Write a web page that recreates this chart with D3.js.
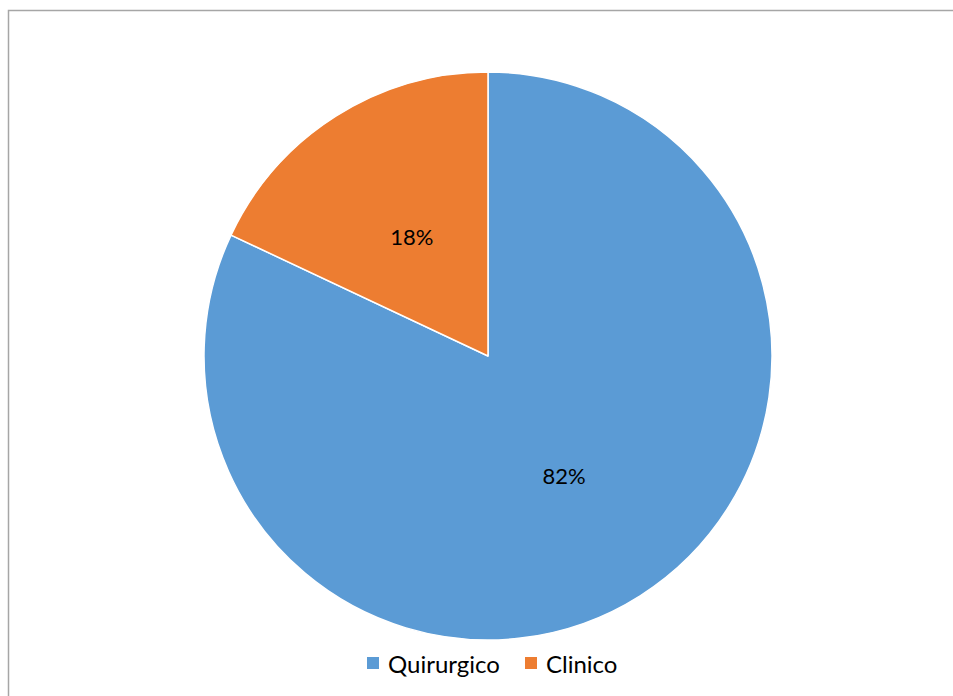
<!DOCTYPE html>
<html>
<head>
<meta charset="utf-8">
<script src="https://cdn.jsdelivr.net/npm/d3@7"></script>
<style>
  html, body { margin: 0; padding: 0; background: #fff; }
  svg { display: block; }
</style>
</head>
<body>
<svg id="chart" width="953" height="696"></svg>
<script>
// Share of cases by type
const categories = ["Quirurgico", "Clinico"];
const values = [82, 18];
const colors = ["#5B9BD5", "#ED7D31"];

const width = 953, height = 696;
const cx = 488, cy = 356, radius = 284;
const fontFamily = "Lato, 'Open Sans', 'Liberation Sans', sans-serif";

const svg = d3.select("#chart");

// chart frame (right and bottom edges fall outside the view)
svg.append("rect")
  .attr("x", 8.5).attr("y", 10.5)
  .attr("width", 1000).attr("height", 1000)
  .attr("fill", "none")
  .attr("stroke", "#a6a6a6")
  .attr("stroke-width", 1.5);

const data = categories.map((c, i) => ({ category: c, value: values[i], color: colors[i] }));

const pie = d3.pie().value(d => d.value).sort(null);
const arcs = pie(data);
const arc = d3.arc().innerRadius(0).outerRadius(radius);
const labelArc = d3.arc().innerRadius(radius * 0.5).outerRadius(radius * 0.5);

const g = svg.append("g").attr("transform", `translate(${cx},${cy})`);

g.selectAll("path.slice")
  .data(arcs)
  .join("path")
  .attr("class", "slice")
  .attr("d", arc)
  .attr("fill", d => d.data.color)
  .attr("stroke", "#fff")
  .attr("stroke-width", 1.5)
  .attr("stroke-linejoin", "round");

const total = d3.sum(values);
g.selectAll("text.label")
  .data(arcs)
  .join("text")
  .attr("class", "label")
  .attr("transform", d => `translate(${labelArc.centroid(d)})`)
  .attr("text-anchor", "middle")
  .attr("dominant-baseline", "central")
  .attr("font-family", fontFamily)
  .attr("font-size", 22)
  .attr("fill", "#000")
  .text(d => Math.round(d.data.value / total * 100) + "%");

// legend
const legend = svg.append("g").attr("transform", "translate(367,663)");
const legendX = [0, 158];
const items = legend.selectAll("g.item")
  .data(data)
  .join("g")
  .attr("class", "item")
  .attr("transform", (d, i) => `translate(${legendX[i]},0)`);

items.append("rect")
  .attr("x", 0).attr("y", -6)
  .attr("width", 12).attr("height", 12)
  .attr("fill", d => d.color);

items.append("text")
  .attr("x", 21)
  .attr("y", 0)
  .attr("dominant-baseline", "central")
  .attr("font-family", fontFamily)
  .attr("font-size", 24)
  .attr("fill", "#000")
  .text(d => d.category);
</script>
</body>
</html>
